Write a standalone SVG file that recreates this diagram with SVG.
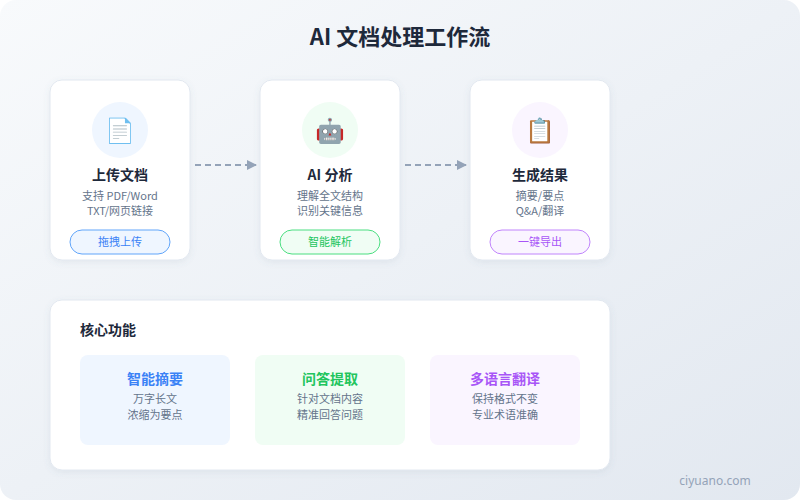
<svg xmlns="http://www.w3.org/2000/svg" width="800" height="500" viewBox="0 0 800 500">
<defs>
<linearGradient id="bg" x1="0" y1="0" x2="1" y2="1">
<stop offset="0" stop-color="#f8fafc"/>
<stop offset="1" stop-color="#e2e8f0"/>
</linearGradient>
<filter id="sh" x="-10%" y="-10%" width="120%" height="130%">
<feDropShadow dx="0" dy="2" stdDeviation="3" flood-color="#64748b" flood-opacity="0.10"/>
</filter>
<marker id="arr" viewBox="0 0 10 10" refX="9" refY="5" markerWidth="10" markerHeight="10" markerUnits="userSpaceOnUse" orient="auto">
<path d="M0,0 L10,5 L0,10 z" fill="#94a3b8"/>
</marker>
<style>
text{font-family:"Noto Sans CJK SC","Noto Sans",sans-serif;text-anchor:middle}
.card{fill:#fff;stroke:#e2e8f0;stroke-width:1}
.title{font-size:22px;font-weight:700;fill:#1e293b}
.h{font-size:14px;font-weight:700;fill:#1e293b}
.d{font-size:11px;fill:#64748b}
.emo{font-size:24px}
.btn{font-size:11px}
.ft{font-size:14px;font-weight:700}
.conn{stroke:#94a3b8;stroke-width:2;stroke-dasharray:6 4;fill:none}
</style>
</defs>
<rect x="0" y="0" width="800" height="500" rx="16" fill="url(#bg)"/>
<text class="title" x="400" y="45">AI 文档处理工作流</text>

<g id="upload">
<rect class="card" x="50" y="80" width="140" height="180" rx="12" filter="url(#sh)"/>
<circle cx="120" cy="130" r="28" fill="#eff6ff"/>
<text class="emo" x="120" y="139" fill="#3b82f6">📄</text>
<text class="h" x="120" y="180">上传文档</text>
<text class="d" x="120" y="200">支持 PDF/Word</text>
<text class="d" x="120" y="215">TXT/网页链接</text>
<rect x="70" y="230" width="100" height="24" rx="12" fill="#eff6ff" stroke="#60a5fa" stroke-width="1"/>
<text class="btn" x="120" y="246" fill="#3b82f6">拖拽上传</text>
</g>

<g id="analyze">
<rect class="card" x="260" y="80" width="140" height="180" rx="12" filter="url(#sh)"/>
<circle cx="330" cy="130" r="28" fill="#f0fdf4"/>
<text class="emo" x="330" y="139" fill="#22c55e">🤖</text>
<text class="h" x="330" y="180">AI 分析</text>
<text class="d" x="330" y="200">理解全文结构</text>
<text class="d" x="330" y="215">识别关键信息</text>
<rect x="280" y="230" width="100" height="24" rx="12" fill="#f0fdf4" stroke="#4ade80" stroke-width="1"/>
<text class="btn" x="330" y="246" fill="#22c55e">智能解析</text>
</g>

<g id="result">
<rect class="card" x="470" y="80" width="140" height="180" rx="12" filter="url(#sh)"/>
<circle cx="540" cy="130" r="28" fill="#faf5ff"/>
<text class="emo" x="540" y="139" fill="#a855f7">📋</text>
<text class="h" x="540" y="180">生成结果</text>
<text class="d" x="540" y="200">摘要/要点</text>
<text class="d" x="540" y="215">Q&amp;A/翻译</text>
<rect x="490" y="230" width="100" height="24" rx="12" fill="#faf5ff" stroke="#c084fc" stroke-width="1"/>
<text class="btn" x="540" y="246" fill="#a855f7">一键导出</text>
</g>

<g id="connectors">
<line class="conn" x1="195" y1="165" x2="256" y2="165" marker-end="url(#arr)"/>
<line class="conn" x1="405" y1="165" x2="466" y2="165" marker-end="url(#arr)"/>
</g>

<g id="features">
<rect class="card" x="50" y="300" width="560" height="170" rx="12" filter="url(#sh)"/>
<text class="h" x="80" y="335" style="text-anchor:start">核心功能</text>
<g id="f-summary">
<rect x="80" y="355" width="150" height="90" rx="8" fill="#eff6ff"/>
<text class="ft" x="155" y="384" fill="#3b82f6">智能摘要</text>
<text class="d" x="155" y="403">万字长文</text>
<text class="d" x="155" y="419">浓缩为要点</text>
</g>
<g id="f-qa">
<rect x="255" y="355" width="150" height="90" rx="8" fill="#f0fdf4"/>
<text class="ft" x="330" y="384" fill="#22c55e">问答提取</text>
<text class="d" x="330" y="403">针对文档内容</text>
<text class="d" x="330" y="419">精准回答问题</text>
</g>
<g id="f-trans">
<rect x="430" y="355" width="150" height="90" rx="8" fill="#faf5ff"/>
<text class="ft" x="505" y="384" fill="#a855f7">多语言翻译</text>
<text class="d" x="505" y="403">保持格式不变</text>
<text class="d" x="505" y="419">专业术语准确</text>
</g>
</g>

<text x="715" y="485" style="font-family:'Noto Sans','Liberation Sans',sans-serif;font-size:12px;fill:#94a3b8">ciyuano.com</text>
</svg>
